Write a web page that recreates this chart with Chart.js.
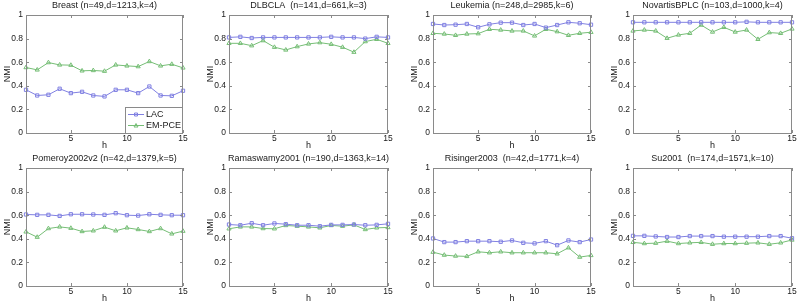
<!DOCTYPE html>
<html>
<head>
<meta charset="utf-8">
<title>NMI vs h - LAC / EM-PCE</title>
<script src="https://cdn.jsdelivr.net/npm/chart.js@4.4.1/dist/chart.umd.min.js"></script>
<style>
    html, body { margin: 0; padding: 0; background: #fff; overflow: hidden; }
    #wrap { position: relative; width: 800px; height: 306px; }
    #wrap canvas { position: absolute; }
</style>
</head>
<body>
<div id="wrap"></div>

<script>
// ---- data ----
const hValues = [1, 2, 3, 4, 5, 6, 7, 8, 9, 10, 11, 12, 13, 14, 15];
const xTicks = [5, 10, 15];
const yTicks = [0, 0.2, 0.4, 0.6, 0.8, 1];
const seriesNames = ['LAC', 'EM-PCE'];
const panelTitles = [
    'Breast (n=49,d=1213,k=4)',
    'DLBCLA  (n=141,d=661,k=3)',
    'Leukemia (n=248,d=2985,k=6)',
    'NovartisBPLC (n=103,d=1000,k=4)',
    'Pomeroy2002v2 (n=42,d=1379,k=5)',
    'Ramaswamy2001 (n=190,d=1363,k=14)',
    'Risinger2003  (n=42,d=1771,k=4)',
    'Su2001  (n=174,d=1571,k=10)'
];

const lacBreast = [0.366, 0.318, 0.324, 0.375, 0.338, 0.349, 0.318, 0.310, 0.366, 0.366, 0.338, 0.394, 0.318, 0.315, 0.358];
const emBreast  = [0.555, 0.535, 0.597, 0.577, 0.575, 0.527, 0.530, 0.524, 0.577, 0.569, 0.563, 0.606, 0.569, 0.583, 0.552];

const lacDlbcla = [0.810, 0.815, 0.805, 0.810, 0.810, 0.810, 0.810, 0.810, 0.810, 0.815, 0.810, 0.810, 0.800, 0.815, 0.810];
const emDlbcla  = [0.760, 0.760, 0.740, 0.783, 0.727, 0.704, 0.732, 0.755, 0.766, 0.752, 0.727, 0.685, 0.775, 0.794, 0.760];

const lacLeukemia = [0.924, 0.915, 0.918, 0.924, 0.896, 0.921, 0.935, 0.935, 0.915, 0.924, 0.893, 0.915, 0.938, 0.930, 0.918];
const emLeukemia  = [0.845, 0.839, 0.828, 0.839, 0.842, 0.879, 0.873, 0.865, 0.865, 0.823, 0.879, 0.859, 0.828, 0.845, 0.854];

const lacNovartis = [0.938, 0.938, 0.938, 0.938, 0.938, 0.938, 0.938, 0.938, 0.938, 0.938, 0.942, 0.938, 0.938, 0.938, 0.938];
const emNovartis  = [0.865, 0.873, 0.865, 0.803, 0.831, 0.845, 0.915, 0.856, 0.896, 0.856, 0.873, 0.794, 0.851, 0.845, 0.882];

const lacPomeroy = [0.606, 0.603, 0.603, 0.594, 0.608, 0.608, 0.606, 0.603, 0.617, 0.600, 0.597, 0.608, 0.603, 0.600, 0.600];
const emPomeroy  = [0.459, 0.414, 0.487, 0.501, 0.490, 0.462, 0.468, 0.499, 0.468, 0.493, 0.479, 0.462, 0.487, 0.442, 0.465];

const lacRamaswamy = [0.521, 0.515, 0.532, 0.515, 0.530, 0.524, 0.515, 0.515, 0.507, 0.518, 0.518, 0.521, 0.515, 0.518, 0.527];
const emRamaswamy  = [0.485, 0.501, 0.501, 0.487, 0.485, 0.513, 0.507, 0.501, 0.493, 0.513, 0.507, 0.518, 0.479, 0.493, 0.496];

const lacRisinger = [0.403, 0.372, 0.372, 0.380, 0.380, 0.380, 0.375, 0.386, 0.366, 0.361, 0.380, 0.346, 0.386, 0.372, 0.394];
const emRisinger  = [0.287, 0.262, 0.254, 0.251, 0.290, 0.282, 0.290, 0.282, 0.282, 0.282, 0.282, 0.273, 0.324, 0.245, 0.259];

const lacSu = [0.425, 0.425, 0.420, 0.415, 0.415, 0.423, 0.423, 0.423, 0.418, 0.418, 0.418, 0.418, 0.423, 0.423, 0.405];
const emSu  = [0.370, 0.360, 0.363, 0.380, 0.360, 0.366, 0.370, 0.354, 0.360, 0.360, 0.363, 0.366, 0.354, 0.366, 0.390];

const lacSeries = [lacBreast, lacDlbcla, lacLeukemia, lacNovartis, lacPomeroy, lacRamaswamy, lacRisinger, lacSu];
const emSeries  = [emBreast, emDlbcla, emLeukemia, emNovartis, emPomeroy, emRamaswamy, emRisinger, emSu];

// ---- layout of the 2x4 grid (pixels) ----
const boxLeft = [26, 229, 433, 633];
const boxWidth = [157, 159, 158, 159];
const rowTop = [15, 168];
const boxHeight = 118;
const yAxisW = 26, xAxisH = 20, titleH = 15, rightPad = 10;

const FONT = "'Liberation Sans', Arial, Helvetica, sans-serif";
const lacColor = 'rgb(128,128,226)';
const emColor = 'rgb(118,190,118)';
const axisColor = '#8a8a8a';
const textColor = '#1a1a1a';

// draws the matlab style box, inward ticks, panel title and (panel 0) legend
const boxPlugin = {
    id: 'matlabBox',
    afterDraw(chart, args, opts) {
        const ctx = chart.ctx;
        const a = chart.chartArea;
        const xs = chart.scales.x, ys = chart.scales.y;
        ctx.save();
        ctx.strokeStyle = axisColor;
        ctx.lineWidth = 1;
        ctx.strokeRect(Math.round(a.left) + 0.5, Math.round(a.top) + 0.5,
                       Math.round(a.right - a.left) - 1, Math.round(a.bottom - a.top));
        ctx.beginPath();
        xTicks.forEach(v => {
            const px = Math.round(xs.getPixelForValue(v)) + 0.5;
            ctx.moveTo(px, a.bottom); ctx.lineTo(px, a.bottom - 3);
            ctx.moveTo(px, a.top); ctx.lineTo(px, a.top + 3);
        });
        yTicks.forEach(v => {
            const py = Math.round(ys.getPixelForValue(v)) + 0.5;
            ctx.moveTo(a.left, py); ctx.lineTo(a.left + 3, py);
            ctx.moveTo(a.right, py); ctx.lineTo(a.right - 3, py);
        });
        ctx.stroke();

        // title
        ctx.fillStyle = textColor;
        ctx.font = '9px ' + FONT;
        ctx.textAlign = 'center';
        ctx.textBaseline = 'middle';
        ctx.fillText(opts.title, (a.left + a.right) / 2, 6);

        if (opts.legend) {
            const w = 58, h = 26;
            const lx = Math.round(a.right) - w, ly = Math.round(a.bottom) - h;
            ctx.fillStyle = '#fff';
            ctx.fillRect(lx, ly, w, h);
            ctx.strokeStyle = axisColor;
            ctx.strokeRect(lx + 0.5, ly + 0.5, w - 1, h);
            ctx.textAlign = 'left';
            chart.data.datasets.forEach((ds, i) => {
                const cy = ly + 7 + i * 11;
                ctx.strokeStyle = ds.borderColor;
                ctx.beginPath();
                ctx.moveTo(lx + 3, cy + 0.5); ctx.lineTo(lx + 19, cy + 0.5);
                ctx.stroke();
                const mx = lx + 11;
                ctx.beginPath();
                if (ds.pointStyle === 'rect') {
                    ctx.rect(mx - 1.5, cy - 1, 3, 3);
                } else {
                    ctx.moveTo(mx, cy - 1.5); ctx.lineTo(mx + 2, cy + 2); ctx.lineTo(mx - 2, cy + 2); ctx.closePath();
                }
                ctx.stroke();
                ctx.fillStyle = textColor;
                ctx.fillText(ds.label, lx + 21, cy + 1);
            });
        }
        ctx.restore();
    }
};

const wrap = document.getElementById('wrap');

for (let p = 0; p < 8; p++) {
    const col = p % 4, row = Math.floor(p / 4);
    const cw = yAxisW + boxWidth[col] + rightPad;
    const ch = titleH + boxHeight + xAxisH;
    const canvas = document.createElement('canvas');
    canvas.width = cw;
    canvas.height = ch;
    canvas.style.left = (boxLeft[col] - yAxisW) + 'px';
    canvas.style.top = (rowTop[row] - titleH) + 'px';
    wrap.appendChild(canvas);

    const tickFont = { family: FONT, size: 8.5 };
    const labelFont = { family: FONT, size: 9 };

    new Chart(canvas.getContext('2d'), {
        type: 'line',
        data: {
            labels: hValues,
            datasets: [
                {
                    label: seriesNames[0],
                    data: hValues.map((h, i) => ({ x: h, y: lacSeries[p][i] })),
                    borderColor: lacColor, borderWidth: 1,
                    pointStyle: 'rect', pointRadius: 2.3,
                    pointBorderColor: lacColor, pointBackgroundColor: 'rgba(0,0,0,0)', pointBorderWidth: 1,
                    tension: 0, clip: false
                },
                {
                    label: seriesNames[1],
                    data: hValues.map((h, i) => ({ x: h, y: emSeries[p][i] })),
                    borderColor: emColor, borderWidth: 1,
                    pointStyle: 'triangle', pointRadius: 2.4,
                    pointBorderColor: emColor, pointBackgroundColor: 'rgba(0,0,0,0)', pointBorderWidth: 1,
                    tension: 0, clip: false
                }
            ]
        },
        options: {
            responsive: false,
            animation: false,
            events: [],
            layout: { padding: { left: 0, right: rightPad, top: titleH, bottom: 0 } },
            plugins: {
                legend: { display: false },
                tooltip: { enabled: false },
                title: { display: false },
                matlabBox: { title: panelTitles[p], legend: p === 0 }
            },
            scales: {
                x: {
                    type: 'linear', min: 1, max: 15,
                    afterBuildTicks: s => { s.ticks = xTicks.map(v => ({ value: v })); },
                    afterFit: s => { s.height = xAxisH; },
                    grid: { display: false, drawTicks: false },
                    border: { display: false },
                    ticks: { font: tickFont, color: textColor, padding: 1, maxRotation: 0, autoSkip: false },
                    title: { display: true, text: 'h', font: labelFont, color: textColor, padding: { top: 0, bottom: 2 } }
                },
                y: {
                    type: 'linear', min: 0, max: 1,
                    afterBuildTicks: s => { s.ticks = yTicks.map(v => ({ value: v })); },
                    afterFit: s => { s.width = yAxisW; },
                    grid: { display: false, drawTicks: false },
                    border: { display: false },
                    ticks: {
                        font: tickFont, color: textColor, padding: 3,
                        callback: v => String(+v.toFixed(1))
                    },
                    title: { display: true, text: 'NMI', font: labelFont, color: textColor, padding: { top: 2.5, bottom: 0 } }
                }
            }
        },
        plugins: [boxPlugin]
    });
}
</script>
</body>
</html>
